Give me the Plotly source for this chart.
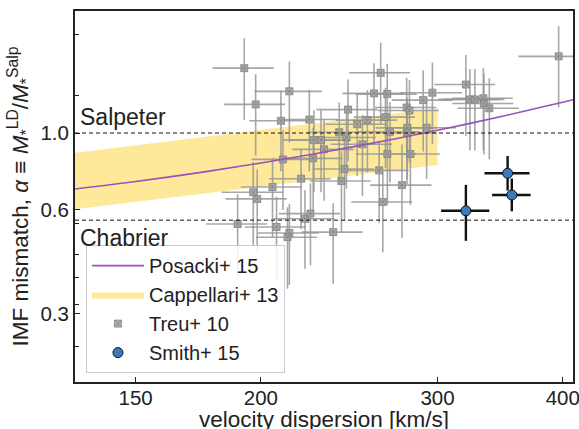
import math
import plotly.graph_objects as go

# ---------------- data ----------------
# Treu+ 10 (gray squares)
treu_sigma = [192.5, 197.6, 213.5, 209.4, 223.5, 210.4, 225.5, 225.9, 229.6, 231.2,
              219.3, 205.4, 196.5, 198.3, 189.6, 207.3, 213.5, 212.6, 221.3, 224.1,
              236.1, 244.3, 239.4, 243.4, 242.3, 240.6, 249.5, 252.5, 255.4, 259.3,
              263.3, 262.4, 267.3, 266.2, 269.0, 279.5, 281.3, 279.9, 279.7, 290.3,
              296.5, 292.6, 267.4, 281.9, 276.5, 264.6, 320.2, 323.2, 326.9, 333.3,
              333.7, 337.9, 396.2]
treu_sigma_err = [13.5, 13.8, 16.5, 14.7, 15.6, 14.7, 15.8, 15.8, 16.1, 16.2,
                  15.4, 14.4, 13.8, 13.9, 13.3, 14.5, 14.9, 14.9, 15.5, 15.7,
                  16.5, 17.1, 16.8, 17.0, 17.0, 16.8, 17.5, 17.7, 17.9, 18.2,
                  18.4, 18.4, 18.7, 18.6, 18.8, 19.6, 19.7, 19.6, 19.6, 20.3,
                  20.8, 20.5, 18.7, 19.7, 19.4, 18.5, 22.4, 22.6, 22.9, 23.3,
                  23.4, 23.7, 35.0]
treu_alpha = [1.54, 1.21, 1.32, 1.085, 1.094, 0.839, 0.845, 0.954, 0.954, 0.897,
              0.738, 0.698, 0.674, 0.645, 0.546, 0.535, 0.514, 0.500, 0.565, 0.585,
              0.517, 1.169, 1.005, 0.971, 0.787, 0.727, 1.060, 0.928, 1.090, 1.302,
              1.493, 0.780, 1.296, 1.112, 1.009, 1.185, 1.162, 1.035, 1.002, 1.245,
              1.308, 1.036, 0.870, 0.870, 0.707, 0.632, 1.381, 1.251, 1.251, 1.260,
              1.217, 1.179, 1.666]
treu_alpha_up = [0.34, 0.27, 0.29, 0.24, 0.24, 0.18, 0.19, 0.21, 0.21, 0.20,
                 0.16, 0.15, 0.15, 0.14, 0.12, 0.12, 0.11, 0.11, 0.12, 0.13,
                 0.11, 0.26, 0.22, 0.21, 0.17, 0.16, 0.23, 0.20, 0.24, 0.29,
                 0.33, 0.17, 0.29, 0.24, 0.22, 0.26, 0.26, 0.23, 0.22, 0.27,
                 0.29, 0.23, 0.19, 0.19, 0.22, 0.14, 0.30, 0.28, 0.28, 0.28,
                 0.27, 0.26, 0.37]
treu_alpha_dn = [0.45, 0.35, 0.38, 0.31, 0.32, 0.24, 0.25, 0.28, 0.28, 0.26,
                 0.21, 0.20, 0.20, 0.19, 0.16, 0.16, 0.15, 0.145, 0.16, 0.17,
                 0.15, 0.34, 0.29, 0.28, 0.23, 0.21, 0.31, 0.27, 0.32, 0.38,
                 0.43, 0.23, 0.38, 0.32, 0.29, 0.34, 0.34, 0.30, 0.29, 0.36,
                 0.38, 0.30, 0.25, 0.25, 0.21, 0.18, 0.40, 0.36, 0.36, 0.37,
                 0.35, 0.34, 0.48]

# Smith+ 15 (blue circles)
smith_sigma = [352.4, 355.8, 320.2]
smith_sigma_err = [18.2, 15.7, 17.7]
smith_alpha = [0.765, 0.662, 0.596]
smith_alpha_up = [0.093, 0.077, 0.112]
smith_alpha_dn = [0.083, 0.068, 0.108]

# Posacki+ 15 relation (purple line)
posacki_sigma = [130, 150, 175, 200, 225, 250, 275, 300, 325, 350, 375, 400, 415]
posacki_alpha = [0.688, 0.724, 0.771, 0.819, 0.868, 0.918, 0.968, 1.019, 1.070,
                 1.122, 1.175, 1.228, 1.260]

# Cappellari+ 13 band (yellow)
cappellari_sigma = [125, 300]
cappellari_alpha_lo = [0.593, 0.808]
cappellari_alpha_hi = [0.864, 1.179]

# reference IMFs
imf_names = ["Salpeter", "Chabrier"]
imf_alpha = [1.0, 0.56]

# axes
x_title = "velocity dispersion [km/s]"
y_title = ("IMF mismatch, <i>α</i> ≡ <i>M</i><sub>*</sub><sup>LD</sup>/"
           "<i>M</i><sub>*</sub><sup>Salp</sup>")
x_range = [130.5, 409.5]
y_range = [0.1907, 2.253]
x_ticks = [150, 200, 300, 400]
y_ticks = [0.3, 0.6, 1.0]
y_tick_labels = ["0.3", "0.6", "1.0"]
y_minor_ticks = [0.241, 0.32, 0.383, 0.447, 0.546, 1.28, 1.93]

# ---------------- figure ----------------
FONT = "Liberation Sans, Arial, Helvetica, sans-serif"
fig = go.Figure()

fig.add_trace(go.Scatter(
    x=cappellari_sigma + cappellari_sigma[::-1],
    y=cappellari_alpha_lo + cappellari_alpha_hi[::-1],
    fill="toself", fillcolor="#fee99a", mode="lines",
    line=dict(width=0, color="#fee99a"),
    name="Cappellari+ 13", legendrank=2, hoverinfo="skip"))

fig.add_trace(go.Scatter(
    x=treu_sigma, y=treu_alpha, mode="markers", name="Treu+ 10", legendrank=3,
    marker=dict(symbol="square-x", size=7, color="rgba(160,160,160,0.8)",
                line=dict(color="rgba(130,130,130,0.8)", width=1)),
    error_x=dict(type="data", array=treu_sigma_err, color="rgba(150,150,150,0.85)",
                 thickness=1.6, width=0),
    error_y=dict(type="data", symmetric=False, array=treu_alpha_up,
                 arrayminus=treu_alpha_dn, color="rgba(150,150,150,0.85)",
                 thickness=1.6, width=0)))

fig.add_trace(go.Scatter(
    x=posacki_sigma, y=posacki_alpha, mode="lines", name="Posacki+ 15",
    legendrank=1, line=dict(color="#9b51b8", width=1.6, shape="spline")))

fig.add_trace(go.Scatter(
    x=smith_sigma, y=smith_alpha, mode="markers", name="Smith+ 15", legendrank=4,
    marker=dict(symbol="circle", size=10, color="#3b7bbd",
                line=dict(color="#111", width=1)),
    error_x=dict(type="data", array=smith_sigma_err, color="#111",
                 thickness=2.4, width=0),
    error_y=dict(type="data", symmetric=False, array=smith_alpha_up,
                 arrayminus=smith_alpha_dn, color="#111", thickness=2.4, width=0)))

for name, a in zip(imf_names, imf_alpha):
    fig.add_shape(type="line", xref="paper", x0=0, x1=1, yref="y", y0=a, y1=a,
                  line=dict(color="#111", width=1, dash="4px,3px"), layer="above")

fig.add_annotation(text=imf_names[0], xref="paper", x=0.006, yref="y", y=math.log10(imf_alpha[0]),
                   xanchor="left", yanchor="bottom", yshift=1, showarrow=False,
                   font=dict(size=23, color="#222", family=FONT))
fig.add_annotation(text=imf_names[1], xref="paper", x=0.006, yref="y", y=math.log10(imf_alpha[1]),
                   xanchor="left", yanchor="top", yshift=-3, showarrow=False,
                   font=dict(size=23, color="#222", family=FONT))

# x-axis title (placed as text so it can sit at the very bottom edge like the original)
fig.add_annotation(text=x_title, xref="paper", x=0.5, yref="paper", y=0,
                   xanchor="center", yanchor="top", yshift=-23, showarrow=False,
                   font=dict(size=22.5, color="#222", family=FONT))

axis_common = dict(showgrid=False, zeroline=False, showline=True, linewidth=2,
                   linecolor="#222", mirror=True, ticks="inside", ticklen=5,
                   tickwidth=1.2, tickcolor="#222", ticklabeloverflow="allow",
                   tickfont=dict(size=20.5, color="#222", family=FONT))

fig.update_xaxes(type="log", range=[math.log10(v) for v in x_range],
                 tickmode="array", tickvals=x_ticks, ticktext=[str(v) for v in x_ticks],
                 ticklabelstandoff=-4, **axis_common)
fig.update_yaxes(type="log", range=[math.log10(v) for v in y_range],
                 tickmode="array", tickvals=y_ticks, ticktext=y_tick_labels,
                 minor=dict(tickmode="array", tickvals=y_minor_ticks, ticks="inside",
                            ticklen=4, tickcolor="#222", tickwidth=1.2),
                 title=dict(text=y_title, standoff=6,
                            font=dict(size=22.5, color="#222", family=FONT)),
                 **axis_common)

fig.update_layout(
    width=579, height=429,
    margin=dict(l=75, r=6, t=11, b=47, autoexpand=False),
    paper_bgcolor="white", plot_bgcolor="white",
    font=dict(family=FONT, color="#222"),
    showlegend=True,
    legend=dict(x=0.022, y=0.369, xanchor="left", yanchor="top",
                bgcolor="rgba(255,255,255,0.85)", bordercolor="#cccccc", borderwidth=1,
                font=dict(size=20, color="#222", family=FONT), itemwidth=52),
)

fig.write_html("out.html", config={"displayModeBar": False},
               post_script="document.body.style.margin='0';document.body.style.overflow='hidden';")
